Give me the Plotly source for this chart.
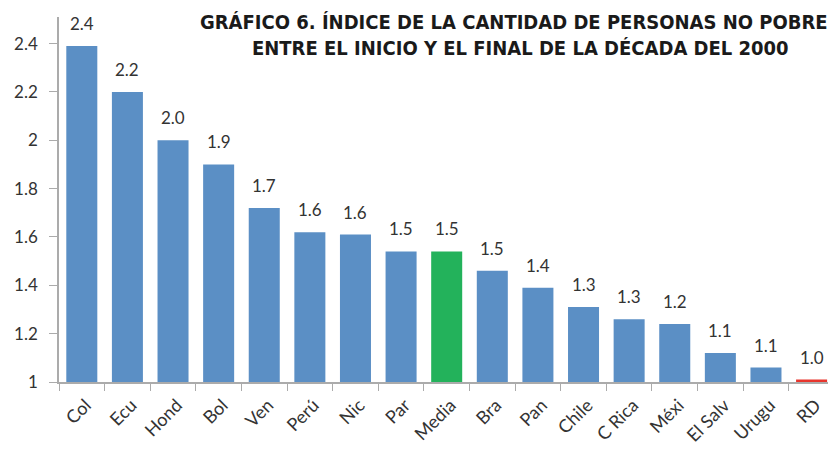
import plotly.graph_objects as go

categories = ["Col", "Ecu", "Hond", "Bol", "Ven", "Perú", "Nic", "Par", "Media",
              "Bra", "Pan", "Chile", "C Rica", "Méxi", "El Salv", "Urugu", "RD"]
values = [2.39, 2.20, 2.00, 1.90, 1.72, 1.62, 1.61, 1.54, 1.54,
          1.46, 1.39, 1.31, 1.26, 1.24, 1.12, 1.06, 1.01]
labels = ["2.4", "2.2", "2.0", "1.9", "1.7", "1.6", "1.6", "1.5", "1.5",
          "1.5", "1.4", "1.3", "1.3", "1.2", "1.1", "1.1", "1.0"]
ytick_vals = [1, 1.2, 1.4, 1.6, 1.8, 2, 2.2, 2.4]
ytick_text = ["1", "1.2", "1.4", "1.6", "1.8", "2", "2.2", "2.4"]

BLUE = "#5B8FC5"
GREEN = "#23B25B"
RED = "#E8352D"
colors = [GREEN if c == "Media" else RED if c == "RD" else BLUE for c in categories]

fig = go.Figure()
fig.add_trace(go.Bar(
    x=categories, y=values,
    marker=dict(color=colors, line=dict(width=0)),
    width=0.68,
))

for c, v, t in zip(categories, values, labels):
    fig.add_annotation(x=c, y=v, text=t, showarrow=False, yanchor="bottom",
                       yshift=10, font=dict(family="Lato, Open Sans, sans-serif", size=17, color="#333333"))

fig.add_annotation(
    xref="paper", yref="paper", x=0.5995, y=1.0, yanchor="top", yshift=9,
    text="<b>GRÁFICO 6. ÍNDICE DE LA CANTIDAD DE PERSONAS NO POBRES</b><br><b>ENTRE EL INICIO Y EL FINAL DE LA DÉCADA DEL 2000</b>",
    showarrow=False, align="center",
    font=dict(family="DejaVu Sans Condensed, sans-serif", size=20, color="#1a1a1a"),
)

fig.update_layout(
    width=828, height=449,
    margin=dict(l=59, r=0, t=17, b=67),
    paper_bgcolor="white", plot_bgcolor="white",
    showlegend=False,
)
fig.update_xaxes(
    type="category", range=[-0.5, 16.36], automargin=False,
    showline=True, linecolor="#ABABAB", linewidth=1.5,
    ticks="outside", tickson="boundaries", ticklen=7, tickcolor="#ABABAB",
    tickangle=-45, ticklabelshift=4, ticklabelstandoff=4,
    tickfont=dict(family="Lato, Open Sans, sans-serif", size=18, color="#333333"),
    showgrid=False,
)
fig.update_yaxes(
    range=[1, 2.51], tickvals=ytick_vals, ticktext=ytick_text, automargin=False,
    showline=True, linecolor="#ABABAB", linewidth=1.5,
    ticks="outside", ticklen=8, tickcolor="#ABABAB", ticklabelstandoff=8,
    tickfont=dict(family="Lato, Open Sans, sans-serif", size=17, color="#333333"),
    showgrid=False, zeroline=False,
)

fig.write_html("out.html", config={"displayModeBar": False},
               post_script="document.body.style.margin='0';document.body.style.overflow='hidden';")
